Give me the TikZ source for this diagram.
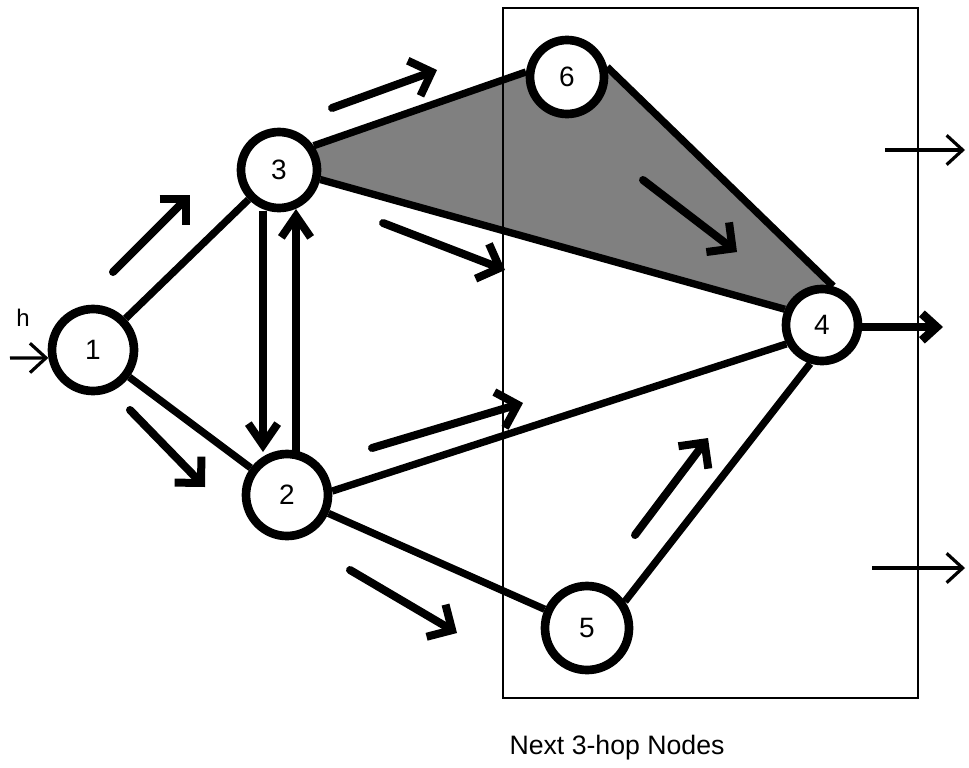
\documentclass[tikz,border=0pt]{standalone}
\usepackage{fontspec}
\setmainfont{Liberation Sans}
\usetikzlibrary{arrows.meta,backgrounds}
\begin{document}
\begin{tikzpicture}[x=0.75pt,y=-0.75pt,
  nd/.style={circle,draw,line width=6.5pt,fill=white,inner sep=0pt,font=\fontsize{21}{21}\selectfont},
  edge/.style={line width=5.5pt},
  flow/.style={line width=6pt,line cap=round,-{Straight Barb[length=14pt,width=28pt]}},
  vflow/.style={line width=6pt,-{Straight Barb[length=16pt,width=22pt]}},
  outflow/.style={line width=6.5pt,-{Straight Barb[length=11pt,width=20pt]}},
  thinarrow/.style={line width=2.4pt,-{Straight Barb[length=12pt,width=22pt]}}
]
\useasboundingbox (0,0) rectangle (969,767);

% nodes
\node[nd,minimum size=61.5pt] (n1) at (93,350) {1};
\node[nd,minimum size=57pt] (n3) at (279,170) {3};
\node[nd,minimum size=61.5pt] (n2) at (287,495) {2};
\node[nd,minimum size=55.5pt] (n6) at (567,77) {6};
\node[nd,minimum size=54pt] (n4) at (822,325) {4};
\node[nd,minimum size=63pt] (n5) at (587,628) {5};

% edges
\draw[edge] (n1) -- (n3);
\draw[edge] (n1) -- (n2);
\draw[edge] (n2.5) -- (n4.208);
\draw[edge] (n2) -- (n5);
\draw[edge] (n5.35) -- (n4.253);
\draw[edge] (n3.35) -- (n6.173);
\draw[edge] (n6.14) -- (n4.74);
\draw[edge] (n3.-13) -- (n4.157);

% vertical arrows between 3 and 2
\coordinate (d1) at (263,211);
\coordinate (d2) at (263,452);
\coordinate (u1) at (296,452);
\coordinate (u2) at (296,209);
\draw[vflow] (d1) -- (d2);
\draw[vflow] (u1) -- (u2);

% free flow arrows
\coordinate (a1s) at (113,272); \coordinate (a1e) at (190,195);
\coordinate (a2s) at (130,410); \coordinate (a2e) at (205,487);
\coordinate (a3s) at (332,108); \coordinate (a3e) at (437,70);
\coordinate (a4s) at (383,223); \coordinate (a4e) at (505,270);
\coordinate (a5s) at (643,180); \coordinate (a5e) at (737,252);
\coordinate (a6s) at (372,448); \coordinate (a6e) at (523,403);
\coordinate (a7s) at (350,570); \coordinate (a7e) at (457,633);
\coordinate (a8s) at (635,535); \coordinate (a8e) at (708,438);
\draw[flow] (a1s) -- (a1e);
\draw[flow] (a2s) -- (a2e);
\draw[flow] (a3s) -- (a3e);
\draw[flow] (a4s) -- (a4e);
\draw[flow] (a5s) -- (a5e);
\draw[flow] (a6s) -- (a6e);
\draw[flow] (a7s) -- (a7e);
\draw[flow] (a8s) -- (a8e);

% output of node 4
\coordinate (o4) at (943,327);
\draw[outflow] (n4.east |- o4) -- (o4);

% input to node 1
\coordinate (in0) at (10,358);
\draw[thinarrow] (in0) -- (n1.190);
\node[font=\fontsize{18}{18}\selectfont] (h) at (23,318) {h};

% right thin arrows
\coordinate (r1s) at (885,150); \coordinate (r1e) at (965,150);
\coordinate (r2s) at (872,568); \coordinate (r2e) at (965,568);
\draw[thinarrow] (r1s) -- (r1e);
\draw[thinarrow] (r2s) -- (r2e);

% box
\draw[line width=1.2pt] (503,8) rectangle (918,698);
\node[font=\fontsize{20}{20}\selectfont] (lbl) at (617,748) {Next 3-hop Nodes};

\begin{scope}[on background layer]
  \fill[white] (0,0) rectangle (969,767);
  \fill[black!50] (n3.center) -- (n3.35) -- (n6.173) -- (n6.center) -- (n6.14) -- (n4.74) -- (n4.center) -- (n4.157) -- (n3.-13) -- cycle;
\end{scope}
\end{tikzpicture}
\end{document}
